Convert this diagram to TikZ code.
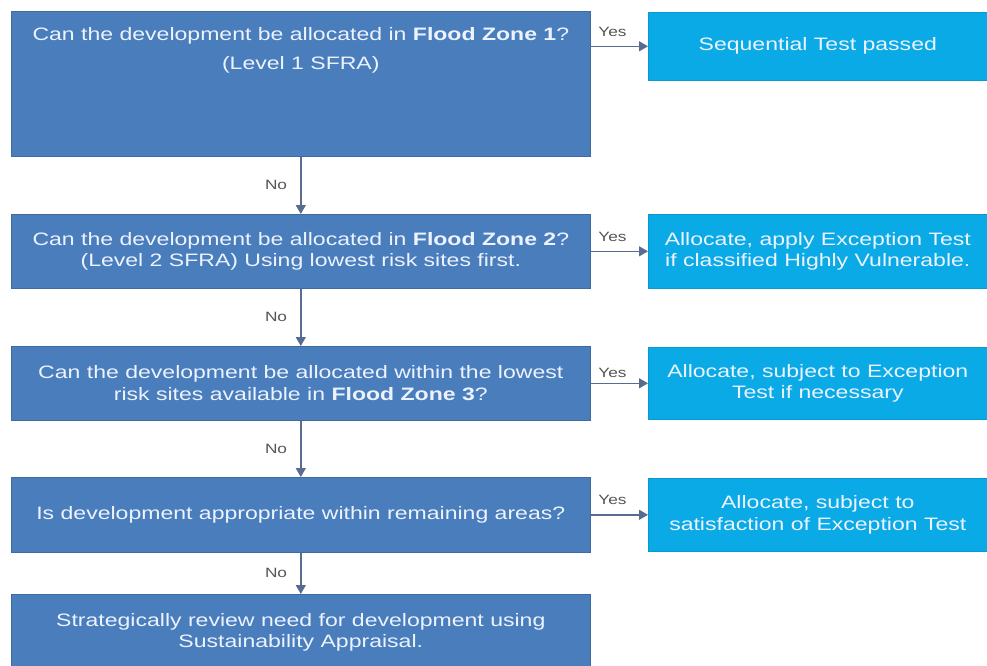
\documentclass[tikz,border=0pt]{standalone}
\usepackage{fontspec}
\setmainfont{Liberation Sans}[FakeStretch=1.28]
\usetikzlibrary{arrows.meta}
\definecolor{lboxc}{RGB}{74,125,187}
\definecolor{rboxc}{RGB}{10,170,230}
\definecolor{arrc}{RGB}{88,108,145}
\definecolor{boxtext}{RGB}{236,243,255}
\definecolor{lblc}{RGB}{85,85,85}
\tikzset{
  lbox/.style={rectangle, fill=lboxc, draw=lboxc!85!black, line width=0.6pt, minimum width=579pt, inner sep=0pt, anchor=north west, text=boxtext, align=center, font=\fontsize{18}{21.5}\selectfont},
  rbox/.style={rectangle, fill=rboxc, draw=rboxc!90!black, line width=0.6pt, minimum width=339pt, inner sep=0pt, anchor=north west, text=boxtext, align=center, font=\fontsize{18}{21.5}\selectfont},
  boxtextstyle/.style={text=boxtext, align=center, font=\fontsize{18}{21.5}\selectfont, inner sep=0pt},
  conn/.style={draw=arrc, line width=1.4pt, -{Triangle[length=9pt,width=10pt,fill=arrc]}},
  lbl/.style={text=lblc, font=\fontsize{13.5}{15}\selectfont, inner sep=0pt}
}
\begin{document}
\begin{tikzpicture}[x=1pt,y=-1pt]
\useasboundingbox[fill=white] (0,0) rectangle (987,666);
% left column
\node[lbox, minimum height=145pt] (q1) at (11,11) {};
\node[boxtextstyle, anchor=north] (q1t) at ([yshift=-16pt]q1.north) {Can the development be allocated in \textbf{Flood Zone 1}?\\[8pt](Level 1 SFRA)};
\node[lbox, minimum height=74pt] (q2) at (11,214) {Can the development be allocated in \textbf{Flood Zone 2}?\\(Level 2 SFRA) Using lowest risk sites first.};
\node[lbox, minimum height=74pt] (q3) at (11,346) {Can the development be allocated within the lowest\\risk sites available in \textbf{Flood Zone 3}?};
\node[lbox, minimum height=75pt] (q4) at (11,477) {Is development appropriate within remaining areas?};
\node[lbox, minimum height=76pt] (q5) at (11,594) {Strategically review need for development using\\Sustainability Appraisal.};
% right column
\node[rbox, minimum height=68pt] (r1) at (648,12) {Sequential Test passed};
\node[rbox, minimum height=74pt] (r2) at (648,214) {Allocate, apply Exception Test\\if classified Highly Vulnerable.};
\node[rbox, minimum height=72pt] (r3) at (648,347) {Allocate, subject to Exception\\Test if necessary};
\node[rbox, minimum height=73pt] (r4) at (648,478) {Allocate, subject to\\satisfaction of Exception Test};
% vertical connectors
\draw[conn] (q1.south) -- node[lbl, left=13pt] {No} (q2.north);
\draw[conn] (q2.south) -- node[lbl, left=13pt] {No} (q3.north);
\draw[conn] (q3.south) -- node[lbl, left=13pt] {No} (q4.north);
\draw[conn] (q4.south) -- node[lbl, left=13pt] {No} (q5.north);
% horizontal connectors
\draw[conn] (r1.west -| q1.east) -- node[lbl, above=9pt, pos=0.38] {Yes} (r1.west);
\draw[conn] (r2.west -| q2.east) -- node[lbl, above=9pt, pos=0.38] {Yes} (r2.west);
\draw[conn] (r3.west -| q3.east) -- node[lbl, above=5pt, pos=0.38] {Yes} (r3.west);
\draw[conn] (r4.west -| q4.east) -- node[lbl, above=9pt, pos=0.38] {Yes} (r4.west);
\end{tikzpicture}
\end{document}
